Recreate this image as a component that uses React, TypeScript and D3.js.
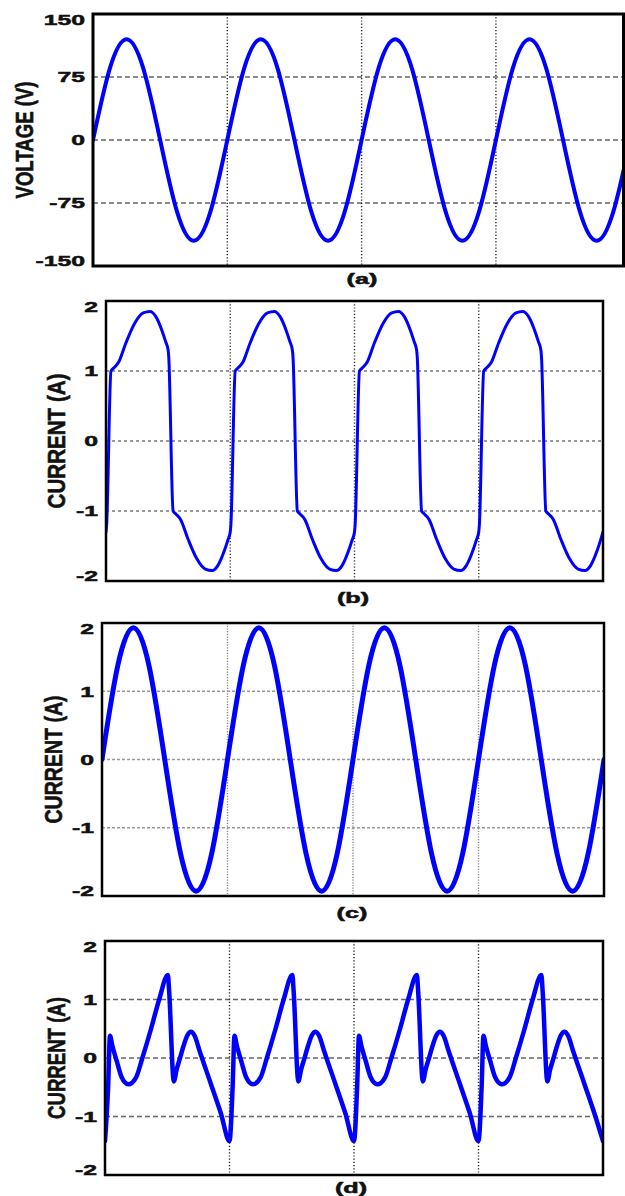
import React, { useEffect, useRef } from 'react';
import * as d3 from 'd3';

// (a) supply voltage, time in grid divisions (one division = one cycle)
const voltageTime = [
  0, 0.125, 0.25, 0.375, 0.5, 0.625, 0.75, 0.875,
  1, 1.125, 1.25, 1.375, 1.5, 1.625, 1.75, 1.875,
  2, 2.125, 2.25, 2.375, 2.5, 2.625, 2.75, 2.875,
  3, 3.125, 3.25, 3.375, 3.5, 3.625, 3.75, 3.875, 4,
];
const voltage = [
  0, 85, 120, 85, 0, -85, -120, -85,
  0, 85, 120, 85, 0, -85, -120, -85,
  0, 85, 120, 85, 0, -85, -120, -85,
  0, 85, 120, 85, 0, -85, -120, -85, 0,
];

// (b) load current
const currentBTime = [
  0, 0.005, 0.04, 0.06, 0.1, 0.16, 0.23, 0.3, 0.355, 0.4, 0.45, 0.48, 0.5, 0.505, 0.54, 0.56, 0.6, 0.66, 0.73, 0.8, 0.855, 0.9, 0.95, 0.98,
  1, 1.005, 1.04, 1.06, 1.1, 1.16, 1.23, 1.3, 1.355, 1.4, 1.45, 1.48, 1.5, 1.505, 1.54, 1.56, 1.6, 1.66, 1.73, 1.8, 1.855, 1.9, 1.95, 1.98,
  2, 2.005, 2.04, 2.06, 2.1, 2.16, 2.23, 2.3, 2.355, 2.4, 2.45, 2.48, 2.5, 2.505, 2.54, 2.56, 2.6, 2.66, 2.73, 2.8, 2.855, 2.9, 2.95, 2.98,
  3, 3.005, 3.04, 3.06, 3.1, 3.16, 3.23, 3.3, 3.355, 3.4, 3.45, 3.48, 3.5, 3.505, 3.54, 3.56, 3.6, 3.66, 3.73, 3.8, 3.855, 3.9, 3.95, 3.98,
  4,
];
const currentB = [
  -1.3, -1.2, 1.0, 1.04, 1.12, 1.4, 1.68, 1.83, 1.85, 1.78, 1.58, 1.42, 1.3, 1.2, -1.0, -1.04, -1.12, -1.4, -1.68, -1.83, -1.85, -1.78, -1.58, -1.42,
  -1.3, -1.2, 1.0, 1.04, 1.12, 1.4, 1.68, 1.83, 1.85, 1.78, 1.58, 1.42, 1.3, 1.2, -1.0, -1.04, -1.12, -1.4, -1.68, -1.83, -1.85, -1.78, -1.58, -1.42,
  -1.3, -1.2, 1.0, 1.04, 1.12, 1.4, 1.68, 1.83, 1.85, 1.78, 1.58, 1.42, 1.3, 1.2, -1.0, -1.04, -1.12, -1.4, -1.68, -1.83, -1.85, -1.78, -1.58, -1.42,
  -1.3, -1.2, 1.0, 1.04, 1.12, 1.4, 1.68, 1.83, 1.85, 1.78, 1.58, 1.42, 1.3, 1.2, -1.0, -1.04, -1.12, -1.4, -1.68, -1.83, -1.85, -1.78, -1.58, -1.42,
  -1.3,
];

// (c) source current after compensation
const currentCTime = voltageTime;
const currentC = [
  0, 1.37, 1.93, 1.37, 0, -1.37, -1.93, -1.37,
  0, 1.37, 1.93, 1.37, 0, -1.37, -1.93, -1.37,
  0, 1.37, 1.93, 1.37, 0, -1.37, -1.93, -1.37,
  0, 1.37, 1.93, 1.37, 0, -1.37, -1.93, -1.37, 0,
];

// (d) compensating current
const currentDTime = [
  0, 0.025, 0.04, 0.06, 0.094, 0.134, 0.187, 0.25, 0.3, 0.37, 0.435, 0.505, 0.515, 0.553, 0.575, 0.6, 0.63, 0.66, 0.69, 0.72, 0.76, 0.85, 0.93,
  1, 1.025, 1.04, 1.06, 1.094, 1.134, 1.187, 1.25, 1.3, 1.37, 1.435, 1.505, 1.515, 1.553, 1.575, 1.6, 1.63, 1.66, 1.69, 1.72, 1.76, 1.85, 1.93,
  2, 2.025, 2.04, 2.06, 2.094, 2.134, 2.187, 2.25, 2.3, 2.37, 2.435, 2.505, 2.515, 2.553, 2.575, 2.6, 2.63, 2.66, 2.69, 2.72, 2.76, 2.85, 2.93,
  3, 3.025, 3.04, 3.06, 3.094, 3.134, 3.187, 3.25, 3.3, 3.37, 3.435, 3.505, 3.515, 3.553, 3.575, 3.6, 3.63, 3.66, 3.69, 3.72, 3.76, 3.85, 3.93,
  4,
];
const currentD = [
  -1.42, -0.5, 0.38, 0.2, -0.05, -0.33, -0.45, -0.33, 0, 0.5, 1.0, 1.42, 1.15, -0.4, -0.2, -0.02, 0.2, 0.38, 0.45, 0.38, 0.12, -0.44, -0.94,
  -1.42, -0.5, 0.38, 0.2, -0.05, -0.33, -0.45, -0.33, 0, 0.5, 1.0, 1.42, 1.15, -0.4, -0.2, -0.02, 0.2, 0.38, 0.45, 0.38, 0.12, -0.44, -0.94,
  -1.42, -0.5, 0.38, 0.2, -0.05, -0.33, -0.45, -0.33, 0, 0.5, 1.0, 1.42, 1.15, -0.4, -0.2, -0.02, 0.2, 0.38, 0.45, 0.38, 0.12, -0.44, -0.94,
  -1.42, -0.5, 0.38, 0.2, -0.05, -0.33, -0.45, -0.33, 0, 0.5, 1.0, 1.42, 1.15, -0.4, -0.2, -0.02, 0.2, 0.38, 0.45, 0.38, 0.12, -0.44, -0.94,
  -1.42,
];

const voltageTicks = [-150, -75, 0, 75, 150];
const currentTicks = [-2, -1, 0, 1, 2];
const gridDivisions = [1, 2, 3];

const FONT = 'Arial, "Liberation Sans", Helvetica, sans-serif';

interface PanelConfig {
  id: string;
  time: number[];
  values: number[];
  ticks: number[];
  yLabel: string;
  caption: string;
  left: number;
  top: number;
  right: number;
  bottom: number;
  xMax: number;
  curve: d3.CurveFactory;
  lineWidth: number;
  frameWidth: number;
  hGrid: { color: string; dash: string };
  vGrid: { color: string; dash: string };
  labelX: number;
  labelLength: number;
  captionX: number;
  captionY: number;
}

function drawPanel(root: d3.Selection<SVGSVGElement, unknown, null, undefined>, p: PanelConfig) {
  const yMax = d3.max(p.ticks) as number;
  const x = d3.scaleLinear().domain([0, p.xMax]).range([p.left, p.right]);
  const y = d3.scaleLinear().domain([-yMax, yMax]).range([p.bottom, p.top]);

  const g = root.append('g').attr('class', `panel-${p.id}`);

  // grid
  g.selectAll('.hgrid')
    .data(p.ticks.filter(v => Math.abs(v) < yMax))
    .enter()
    .append('line')
    .attr('x1', p.left)
    .attr('x2', p.right)
    .attr('y1', d => y(d))
    .attr('y2', d => y(d))
    .attr('stroke', p.hGrid.color)
    .attr('stroke-width', 1.4)
    .attr('stroke-dasharray', p.hGrid.dash);

  g.selectAll('.vgrid')
    .data(gridDivisions)
    .enter()
    .append('line')
    .attr('x1', d => x(d))
    .attr('x2', d => x(d))
    .attr('y1', p.top)
    .attr('y2', p.bottom)
    .attr('stroke', p.vGrid.color)
    .attr('stroke-width', 1.4)
    .attr('stroke-dasharray', p.vGrid.dash);

  // waveform
  const clipId = `clip-${p.id}`;
  g.append('clipPath')
    .attr('id', clipId)
    .append('rect')
    .attr('x', p.left)
    .attr('y', p.top - 4)
    .attr('width', p.right - p.left)
    .attr('height', p.bottom - p.top + 8);

  const line = d3.line<number>()
    .x((_, i) => x(p.time[i]))
    .y(d => y(d))
    .curve(p.curve);

  g.append('path')
    .datum(p.values)
    .attr('d', line)
    .attr('fill', 'none')
    .attr('stroke', '#0000ff')
    .attr('stroke-width', p.lineWidth)
    .attr('stroke-linejoin', 'round')
    .attr('stroke-linecap', 'round')
    .attr('clip-path', `url(#${clipId})`);

  // frame
  g.append('rect')
    .attr('x', p.left)
    .attr('y', p.top)
    .attr('width', p.right - p.left)
    .attr('height', p.bottom - p.top)
    .attr('fill', 'none')
    .attr('stroke', '#000')
    .attr('stroke-width', p.frameWidth);

  // tick labels (end ones pulled inside the frame like the original)
  g.selectAll('.tick')
    .data(p.ticks)
    .enter()
    .append('text')
    .attr('transform', d => {
      const ty = Math.min(Math.max(y(d), p.top + 5.5), p.bottom - 5.5);
      return `translate(${p.left - 8},${ty}) scale(1.65,1)`;
    })
    .attr('dy', '0.36em')
    .attr('text-anchor', 'end')
    .attr('font-family', FONT)
    .attr('font-weight', 'bold')
    .attr('font-size', 15)
    .attr('fill', '#111')
    .attr('stroke', '#111')
    .attr('stroke-width', 0.5)
    .text(d => String(d));

  // y label
  g.append('text')
    .attr('transform', `translate(${p.labelX},${(p.top + p.bottom) / 2}) scale(1.55,1) rotate(-90)`)
    .attr('text-anchor', 'middle')
    .attr('font-family', FONT)
    .attr('font-weight', 'bold')
    .attr('font-size', 16)
    .attr('textLength', p.labelLength)
    .attr('lengthAdjust', 'spacingAndGlyphs')
    .attr('fill', '#111')
    .attr('stroke', '#111')
    .attr('stroke-width', 0.4)
    .text(p.yLabel);

  // caption
  g.append('text')
    .attr('transform', `translate(${p.captionX},${p.captionY}) scale(1.8,1)`)
    .attr('dy', '0.35em')
    .attr('text-anchor', 'middle')
    .attr('font-family', FONT)
    .attr('font-weight', 'bold')
    .attr('font-size', 14)
    .attr('fill', '#111')
    .attr('stroke', '#111')
    .attr('stroke-width', 0.5)
    .text(p.caption);
}

const App: React.FC = () => {
  const svgRef = useRef<SVGSVGElement>(null);

  useEffect(() => {
    const svg = d3.select(svgRef.current as SVGSVGElement);
    svg.selectAll('*').remove();

    const panels: PanelConfig[] = [
      {
        id: 'a', time: voltageTime, values: voltage, ticks: voltageTicks,
        yLabel: 'VOLTAGE (V)', caption: '(a)',
        left: 93, top: 14, right: 623.5, bottom: 266, xMax: 3.95,
        curve: d3.curveNatural, lineWidth: 4, frameWidth: 3,
        hGrid: { color: '#666', dash: '5,3' }, vGrid: { color: '#222', dash: '1.2,2' },
        labelX: 33, labelLength: 117, captionX: 362, captionY: 279,
      },
      {
        id: 'b', time: currentBTime, values: currentB, ticks: currentTicks,
        yLabel: 'CURRENT (A)', caption: '(b)',
        left: 106, top: 301, right: 603, bottom: 581, xMax: 4,
        curve: d3.curveMonotoneX, lineWidth: 3, frameWidth: 2.5,
        hGrid: { color: '#777', dash: '3,3' }, vGrid: { color: '#333', dash: '1.2,2' },
        labelX: 65, labelLength: 135, captionX: 353, captionY: 598,
      },
      {
        id: 'c', time: currentCTime, values: currentC, ticks: currentTicks,
        yLabel: 'CURRENT (A)', caption: '(c)',
        left: 102, top: 623, right: 604, bottom: 896, xMax: 4,
        curve: d3.curveNatural, lineWidth: 5, frameWidth: 2.5,
        hGrid: { color: '#999', dash: '3,2' }, vGrid: { color: '#888', dash: '1.2,1.5' },
        labelX: 62, labelLength: 128, captionX: 352, captionY: 913,
      },
      {
        id: 'd', time: currentDTime, values: currentD, ticks: currentTicks,
        yLabel: 'CURRENT (A)', caption: '(d)',
        left: 105, top: 941, right: 603, bottom: 1175, xMax: 4,
        curve: d3.curveMonotoneX, lineWidth: 4.5, frameWidth: 2.5,
        hGrid: { color: '#666', dash: '5,3' }, vGrid: { color: '#222', dash: '1.2,2' },
        labelX: 65, labelLength: 122, captionX: 351, captionY: 1188,
      },
    ];

    panels.forEach(p => drawPanel(svg, p));
  }, []);

  return (
    <svg
      ref={svgRef}
      width={625}
      height={1196}
      style={{ position: 'absolute', left: 0, top: 0, background: '#fff' }}
    />
  );
};

export default App;
